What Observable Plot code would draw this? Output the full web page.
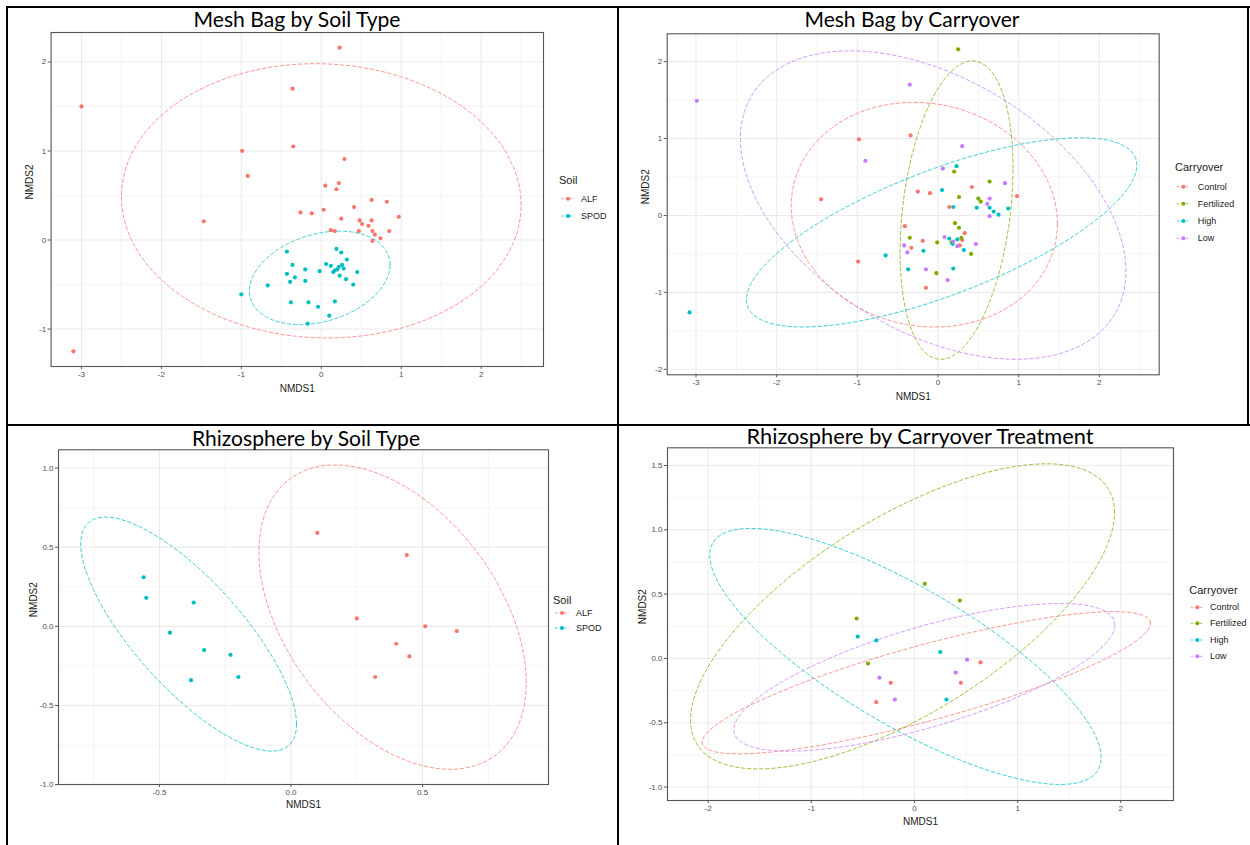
<!DOCTYPE html>
<html>
<head>
<meta charset="utf-8">
<script src="https://cdn.jsdelivr.net/npm/d3@7"></script>
<script src="https://cdn.jsdelivr.net/npm/@observablehq/plot@0.6"></script>
<style>
  body { margin: 0; background: #fff; }
  #root { position: relative; width: 1250px; height: 845px; overflow: hidden; background: #fff; }
  .panel { position: absolute; }
  #overlay { position: absolute; left: 0; top: 0; pointer-events: none; }
</style>
</head>
<body>
<div id="root"></div>
<script>
// ---------------- DATA ----------------
// Panel A: Mesh Bag by Soil Type (NMDS1, NMDS2)
const meshSoilGroups = ["ALF", "SPOD"];
const meshSoil_ALF = [
  [0.23, 2.16], [-3.00, 1.50], [-0.36, 1.70], [-0.99, 1.00], [-0.35, 1.05], [0.29, 0.91],
  [-0.92, 0.72], [0.05, 0.61], [0.22, 0.64], [0.19, 0.57], [-1.47, 0.21], [-0.26, 0.31],
  [-0.12, 0.30], [0.03, 0.34], [0.41, 0.37], [0.63, 0.45], [0.82, 0.43], [0.97, 0.26],
  [0.25, 0.24], [0.48, 0.22], [0.51, 0.18], [0.63, 0.22], [0.59, 0.16], [0.12, 0.11],
  [0.17, 0.10], [0.47, 0.10], [0.64, 0.10], [0.85, 0.10], [0.67, 0.06], [0.74, 0.02],
  [0.64, -0.01], [-3.10, -1.25]
];
const meshSoil_SPOD = [
  [0.19, -0.10], [0.25, -0.14], [-0.43, -0.13], [0.32, -0.22], [-0.36, -0.28], [0.06, -0.27],
  [0.12, -0.29], [0.26, -0.28], [-0.20, -0.33], [-0.02, -0.35], [0.45, -0.36], [0.15, -0.36],
  [0.20, -0.33], [0.28, -0.32], [0.17, -0.34], [0.22, -0.30], [-0.43, -0.38], [-0.33, -0.42],
  [-0.39, -0.47], [-0.20, -0.46], [0.23, -0.40], [0.31, -0.44], [0.40, -0.50], [-0.67, -0.51],
  [-1.00, -0.61], [-0.38, -0.70], [-0.16, -0.70], [-0.04, -0.75], [0.17, -0.69], [0.10, -0.85],
  [-0.17, -0.94]
];
// ellipse: centre, half-extent in x and y, correlation-like tilt (data units)
const meshSoilEllipses = [
  {group: "ALF", cx: 0.00, cy: 0.44, sx: 2.50, sy: 1.54, rho: -0.03},
  {group: "SPOD", cx: -0.02, cy: -0.425, sx: 0.88, sy: 0.525, rho: 0.28}
];

// Panel B: Mesh Bag by Carryover
const carryGroups = ["Control", "Fertilized", "High", "Low"];
const meshCarry_Control = [
  [-0.98, 0.99], [-0.34, 1.04], [-1.45, 0.21], [-0.25, 0.31], [-0.10, 0.29], [0.42, 0.37],
  [0.98, 0.25], [0.14, 0.11], [-0.41, -0.14], [0.33, -0.23], [-0.19, -0.33], [0.30, -0.32],
  [-0.33, -0.42], [0.27, -0.39], [-0.99, -0.60], [-0.15, -0.94]
];
const meshCarry_Fertilized = [
  [0.25, 2.16], [0.20, 0.57], [0.64, 0.44], [0.26, 0.24], [0.50, 0.22], [0.53, 0.18],
  [0.21, -0.10], [0.26, -0.16], [-0.35, -0.29], [0.29, -0.29], [-0.01, -0.35], [0.17, -0.35],
  [0.41, -0.50], [-0.02, -0.75]
];
const meshCarry_High = [
  [-3.08, -1.26], [0.23, 0.64], [0.05, 0.33], [0.19, 0.11], [0.48, 0.10], [0.64, 0.10],
  [0.87, 0.09], [0.69, 0.05], [0.75, 0.01], [0.14, -0.30], [0.24, -0.31], [0.18, -0.37],
  [-0.18, -0.46], [0.32, -0.45], [-0.65, -0.52], [-0.37, -0.70], [0.19, -0.69]
];
const meshCarry_Low = [
  [-2.99, 1.49], [-0.35, 1.70], [-0.90, 0.71], [0.30, 0.90], [0.06, 0.61], [0.83, 0.42],
  [0.64, 0.22], [0.61, 0.15], [0.64, -0.01], [0.08, -0.28], [0.19, -0.34], [0.24, -0.40],
  [0.47, -0.37], [-0.42, -0.39], [-0.38, -0.48], [-0.15, -0.70], [0.12, -0.84]
];
const meshCarryEllipses = [
  {group: "Control", cx: -0.17, cy: 0.01, sx: 1.65, sy: 1.46, rho: -0.08},
  {group: "Fertilized", cx: 0.23, cy: 0.07, sx: 0.70, sy: 1.94, rho: 0.28},
  {group: "High", cx: 0.045, cy: -0.22, sx: 2.42, sy: 1.23, rho: 0.71},
  {group: "Low", cx: -0.06, cy: 0.135, sx: 2.39, sy: 2.005, rho: -0.43}
];

// Panel C: Rhizosphere by Soil Type
const rhizoSoil_ALF = [
  [0.10, 0.59], [0.44, 0.45], [0.25, 0.05], [0.51, 0.00], [0.63, -0.03], [0.40, -0.11],
  [0.45, -0.19], [0.32, -0.32]
];
const rhizoSoil_SPOD = [
  [-0.56, 0.31], [-0.55, 0.18], [-0.37, 0.15], [-0.46, -0.04], [-0.33, -0.15], [-0.23, -0.18],
  [-0.20, -0.32], [-0.38, -0.34]
];
const rhizoSoilEllipses = [
  {group: "ALF", cx: 0.386, cy: 0.058, sx: 0.508, sy: 0.961, rho: -0.43},
  {group: "SPOD", cx: -0.389, cy: -0.049, sx: 0.41, sy: 0.739, rho: -0.77}
];

// Panel D: Rhizosphere by Carryover Treatment
const rhizoCarry_Control = [[0.64, -0.03], [0.45, -0.19], [-0.23, -0.19], [-0.37, -0.34]];
const rhizoCarry_Fertilized = [[0.10, 0.58], [0.44, 0.45], [-0.56, 0.31], [-0.45, -0.04]];
const rhizoCarry_High = [[-0.55, 0.17], [-0.37, 0.14], [0.25, 0.05], [0.31, -0.32]];
const rhizoCarry_Low = [[0.51, -0.01], [0.40, -0.11], [-0.34, -0.15], [-0.19, -0.32]];
const rhizoCarryEllipses = [
  {group: "Control", cx: 0.115, cy: -0.189, sx: 2.173, sy: 0.553, rho: 0.835},
  {group: "Fertilized", cx: -0.116, cy: 0.327, sx: 2.055, sy: 1.186, rho: 0.68},
  {group: "High", cx: -0.0875, cy: 0.0155, sx: 1.897, sy: 0.9955, rho: -0.79},
  {group: "Low", cx: 0.0955, cy: -0.147, sx: 1.8465, sy: 0.574, rho: 0.71}
];

// Tick values
const meshXTicks = [-3, -2, -1, 0, 1, 2];
const meshSoilYTicks = [-1, 0, 1, 2];
const meshCarryYTicks = [-2, -1, 0, 1, 2];
const rhizoSoilXTicks = [-0.5, 0, 0.5];
const rhizoSoilYTicks = [-1, -0.5, 0, 0.5, 1];
const rhizoCarryXTicks = [-2, -1, 0, 1, 2];
const rhizoCarryYTicks = [-1, -0.5, 0, 0.5, 1, 1.5];

// Titles
const titles = ["Mesh Bag by Soil Type", "Mesh Bag by Carryover", "Rhizosphere by Soil Type", "Rhizosphere by Carryover Treatment"];

// ---------------- STYLE ----------------
const soilColors = ["#F8766D", "#00BFC4"];
const carryColors = ["#F8766D", "#7CAE00", "#00BFC4", "#C77CFF"];
const AXIS_FONT = '"Liberation Sans", Arial, Helvetica, sans-serif';

// ---------------- HELPERS ----------------
function ellipseOutline(e, n = 180) {
  const k = Math.sqrt(1 - e.rho * e.rho);
  const out = [];
  for (let i = 0; i <= n; i++) {
    const t = 2 * Math.PI * i / n;
    out.push({g: e.group, x: e.cx + e.sx * Math.cos(t), y: e.cy + e.sy * (e.rho * Math.cos(t) + k * Math.sin(t))});
  }
  return out;
}
function minorTicks(ticks, domain) {
  const step = ticks[1] - ticks[0];
  const out = [];
  for (let v = ticks[0] - step / 2; v <= ticks[ticks.length - 1] + step / 2 + 1e-9; v += step) {
    if (v >= domain[0] && v <= domain[1]) out.push(v);
  }
  return out;
}
const expand = ([a, b]) => { const r = b - a; return [a - 0.05 * r, b + 0.05 * r]; };
const fmtInt = d => String(d);
const fmtDec = d => d.toFixed(1);

function drawPanel(cfg) {
  const pts = cfg.groups.flatMap((g, i) => cfg.points[i].map(([x, y]) => ({g, x, y})));
  const ell = cfg.ellipses.flatMap(e => ellipseOutline(e));
  const xd = expand(d3.extent(pts.map(d => d.x).concat(ell.map(d => d.x))));
  const yd = expand(d3.extent(pts.map(d => d.y).concat(ell.map(d => d.y))));
  const plot = Plot.plot({
    width: cfg.w, height: cfg.h,
    marginLeft: cfg.m[3], marginRight: cfg.m[1], marginTop: cfg.m[0], marginBottom: cfg.m[2],
    x: {domain: xd},
    y: {domain: yd},
    color: {domain: cfg.groups, range: cfg.colors},
    style: {fontFamily: AXIS_FONT, fontSize: "8px", background: "transparent", overflow: "visible", color: "#4d4d4d"},
    marks: [
      Plot.ruleX(minorTicks(cfg.xTicks, xd), {stroke: "#EFEFEF", strokeWidth: 0.6}),
      Plot.ruleY(minorTicks(cfg.yTicks, yd), {stroke: "#EFEFEF", strokeWidth: 0.6}),
      Plot.ruleX(cfg.xTicks, {stroke: "#EBEBEB", strokeWidth: 1.1}),
      Plot.ruleY(cfg.yTicks, {stroke: "#EBEBEB", strokeWidth: 1.1}),
      Plot.line(ell, {x: "x", y: "y", z: "g", stroke: "g", strokeWidth: 1, strokeDasharray: "3.5,2.5", strokeOpacity: 0.75}),
      Plot.dot(pts, {x: "x", y: "y", fill: "g", r: 2.1}),
      Plot.frame({stroke: "#555", strokeWidth: 1.1}),
      Plot.axisX(cfg.xTicks, {tickSize: 3, tickPadding: 2, tickFormat: cfg.xFmt, stroke: "#555", fill: "#4d4d4d", fontSize: 8, label: null}),
      Plot.axisY(cfg.yTicks, {tickSize: 3, tickPadding: 2, tickFormat: cfg.yFmt, stroke: "#555", fill: "#4d4d4d", fontSize: 8, label: null}),
      Plot.text(["NMDS1"], {text: d => d, frameAnchor: "bottom", dy: cfg.xLabelDy, lineAnchor: "middle", fontSize: 10, fill: "#1a1a1a"}),
      Plot.text(["NMDS2"], {text: d => d, frameAnchor: "left", dx: -cfg.yLabelDx, rotate: -90, lineAnchor: "middle", fontSize: 10, fill: "#1a1a1a"})
    ]
  });
  const wrap = document.createElement("div");
  wrap.className = "panel";
  wrap.style.left = cfg.left + "px";
  wrap.style.top = cfg.top + "px";
  wrap.appendChild(plot);
  document.getElementById("root").appendChild(wrap);
}

// ---------------- PANELS ----------------
drawPanel({
  left: 0, top: 0, w: 618, h: 425, m: [32, 75, 59, 50.6],
  groups: meshSoilGroups, colors: soilColors, points: [meshSoil_ALF, meshSoil_SPOD],
  ellipses: meshSoilEllipses, xTicks: meshXTicks, yTicks: meshSoilYTicks, xFmt: fmtInt, yFmt: fmtInt,
  xLabelDy: 22, yLabelDx: 21
});
drawPanel({
  left: 618, top: 0, w: 632, h: 425, m: [33.3, 91.3, 50.7, 48.7],
  groups: carryGroups, colors: carryColors,
  points: [meshCarry_Control, meshCarry_Fertilized, meshCarry_High, meshCarry_Low],
  ellipses: meshCarryEllipses, xTicks: meshXTicks, yTicks: meshCarryYTicks, xFmt: fmtInt, yFmt: fmtInt,
  xLabelDy: 22.4, yLabelDx: 21.5
});
drawPanel({
  left: 0, top: 425, w: 618, h: 420, m: [24.3, 70, 61, 58],
  groups: meshSoilGroups, colors: soilColors, points: [rhizoSoil_ALF, rhizoSoil_SPOD],
  ellipses: rhizoSoilEllipses, xTicks: rhizoSoilXTicks, yTicks: rhizoSoilYTicks, xFmt: fmtDec, yFmt: fmtDec,
  xLabelDy: 20.5, yLabelDx: 25
});
drawPanel({
  left: 618, top: 425, w: 632, h: 420, m: [22.3, 77, 45, 49],
  groups: carryGroups, colors: carryColors,
  points: [rhizoCarry_Control, rhizoCarry_Fertilized, rhizoCarry_High, rhizoCarry_Low],
  ellipses: rhizoCarryEllipses, xTicks: rhizoCarryXTicks, yTicks: rhizoCarryYTicks, xFmt: fmtInt, yFmt: fmtDec,
  xLabelDy: 21.7, yLabelDx: 24.5
});

// ---------------- OVERLAY: borders, titles, legends ----------------
const svg = d3.select("#root").append("svg").attr("id", "overlay").attr("width", 1250).attr("height", 845);
const borders = [
  [6, 6, 1244, 2], [6, 6, 2, 839], [617, 6, 2, 839], [6, 424, 1244, 2], [1247, 6, 2, 420]
];
svg.selectAll("rect.border").data(borders).join("rect").attr("class", "border")
  .attr("x", d => d[0]).attr("y", d => d[1]).attr("width", d => d[2]).attr("height", d => d[3]).attr("fill", "#000");

const titlePos = [[297, 27, 207], [912, 27, 215], [306, 446, 228], [920, 444, 347]];
svg.selectAll("text.title").data(titles).join("text").attr("class", "title")
  .attr("x", (d, i) => titlePos[i][0]).attr("y", (d, i) => titlePos[i][1])
  .attr("text-anchor", "middle").attr("font-family", "Lato, 'Open Sans', sans-serif").attr("font-size", 21)
  .attr("textLength", (d, i) => titlePos[i][2]).attr("lengthAdjust", "spacingAndGlyphs")
  .attr("fill", "#000").text(d => d);

function legend(cfg) {
  const g = svg.append("g");
  g.append("text").attr("x", cfg.tx).attr("y", cfg.ty).attr("font-family", AXIS_FONT).attr("font-size", 11)
    .attr("fill", "#1a1a1a").text(cfg.title);
  cfg.labels.forEach((lab, i) => {
    const y = cfg.rows[i];
    g.append("line").attr("x1", cfg.k0).attr("x2", cfg.k1).attr("y1", y).attr("y2", y)
      .attr("stroke", cfg.colors[i]).attr("stroke-width", 1).attr("stroke-dasharray", "2.5,2").attr("stroke-opacity", 0.75);
    g.append("circle").attr("cx", (cfg.k0 + cfg.k1) / 2).attr("cy", y).attr("r", 2).attr("fill", cfg.colors[i]);
    g.append("text").attr("x", cfg.lx).attr("y", y).attr("dy", "0.35em").attr("font-family", AXIS_FONT)
      .attr("font-size", 9).attr("fill", "#1a1a1a").text(lab);
  });
}
legend({title: "Soil", tx: 559, ty: 184, labels: meshSoilGroups, colors: soilColors, rows: [198.7, 216], k0: 561, k1: 575, lx: 581});
legend({title: "Carryover", tx: 1175, ty: 171.3, labels: carryGroups, colors: carryColors, rows: [186.7, 203.7, 221, 238.3], k0: 1176.7, k1: 1190, lx: 1197.7});
legend({title: "Soil", tx: 553, ty: 604, labels: meshSoilGroups, colors: soilColors, rows: [613, 628], k0: 555, k1: 569, lx: 576});
legend({title: "Carryover", tx: 1189.3, ty: 594, labels: carryGroups, colors: carryColors, rows: [607.3, 623.3, 640, 656.3], k0: 1190.7, k1: 1204, lx: 1210});
</script>
</body>
</html>
